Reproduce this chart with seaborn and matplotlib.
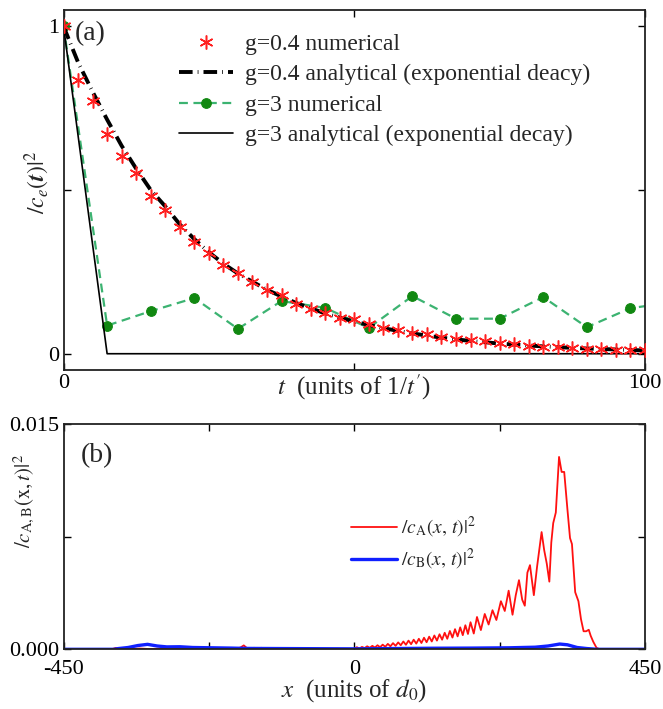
import matplotlib
matplotlib.use('Agg')
import matplotlib.pyplot as plt
import seaborn as sns

# ---- panel (a): |c_e(t)|^2 ----
t_num04 = [0, 2.5, 5, 7.5, 10, 12.5, 15, 17.5, 20, 22.5, 25, 27.5, 30, 32.5, 35, 37.5,
           40, 42.5, 45, 47.5, 50, 52.5, 55, 57.5, 60, 62.5, 65, 67.5, 70, 72.5, 75,
           77.5, 80, 82.5, 85, 87.5, 90, 92.5, 95, 97.5, 100]
ce_num04 = [1.0, 0.835, 0.771, 0.672, 0.603, 0.551, 0.481, 0.440, 0.387, 0.342, 0.308,
            0.271, 0.247, 0.220, 0.195, 0.178, 0.153, 0.138, 0.123, 0.108, 0.105, 0.091,
            0.079, 0.071, 0.064, 0.059, 0.050, 0.045, 0.042, 0.039, 0.034, 0.031, 0.025,
            0.021, 0.020, 0.017, 0.015, 0.014, 0.012, 0.011, 0.010]

t_ana04 = [0, 2.5, 5, 7.5, 10, 12.5, 15, 17.5, 20, 22.5, 25, 27.5, 30, 35, 40, 45, 50,
           55, 60, 65, 70, 75, 80, 85, 90, 95, 100]
ce_ana04 = [1.0, 0.89, 0.80, 0.715, 0.635, 0.565, 0.50, 0.45, 0.395, 0.35, 0.31, 0.275,
            0.245, 0.195, 0.155, 0.123, 0.098, 0.078, 0.062, 0.049, 0.039, 0.031, 0.025,
            0.020, 0.016, 0.013, 0.010]

t_g3 = [0, 7.5, 15, 22.5, 30, 37.5, 45, 52.5, 60, 67.5, 75, 82.5, 90, 97.5, 105]
ce_num3 = [1.0, 0.086, 0.130, 0.170, 0.076, 0.161, 0.140, 0.079, 0.176, 0.107, 0.107,
           0.173, 0.081, 0.139, 0.158]
ce_ana3 = [1.0, 0.0, 0.0, 0.0, 0.0, 0.0, 0.0, 0.0, 0.0, 0.0, 0.0, 0.0, 0.0, 0.0, 0.0]

# ---- panel (b): |c_A|^2 and |c_B|^2 vs x ----
xa = [-450, -376, -369, -362, -352, -343, -332, -318, -300, -282, -262, -240, -218, -196,
      -182, -176, -171, -166, -160, -155, -150, -144, -139, -128, -112, -96, -80, -62,
      -44, -26, -10, 0,
      4, 8, 12, 16, 20, 24, 28, 32, 36, 40, 44, 48, 52, 56, 60, 64, 68, 72, 76, 80,
      84, 88, 92, 96, 100, 104, 108, 112, 116, 120, 124, 128, 132, 136, 140, 144,
      148, 152, 156, 160, 164, 168, 172, 176, 180, 185, 190, 196, 202, 208, 214, 220,
      227, 233, 239, 245, 250, 255, 260, 264, 268, 272, 278, 283, 290, 294, 298, 302,
      305, 308, 312, 317, 321, 325, 330, 334, 337, 342, 347, 351, 355, 359, 363, 366,
      370, 375, 380, 450]
ca = [0, 0, 0.00009, 0.00003, 0.00007, 0.00002, 0.00005, 0.00002, 0.00004, 0.00002,
      0.00004, 0.00002, 0.00004, 0.00002, 0.00005, 0.00012, 0.00026, 0.00008, 0.00004,
      0.0001, 0.00003, 0.0001, 0.00003, 0.00005, 0.00002, 0.00004, 0.00002, 0.00003,
      0.00002, 0.00003, 0.00002, 0.00003,
      0.00014, 0.00005, 0.00016, 0.00008, 0.0002, 0.0001, 0.00023, 0.00012, 0.00027,
      0.00014, 0.00031, 0.00017, 0.00036, 0.0002, 0.00041, 0.00023, 0.00046, 0.00027,
      0.00052, 0.0003, 0.00058, 0.00034, 0.00064, 0.00038, 0.0007, 0.00042, 0.00077,
      0.00047, 0.00084, 0.00052, 0.00092, 0.00058, 0.001, 0.00064, 0.0011, 0.0007,
      0.00122, 0.00078, 0.00134, 0.00086, 0.00146, 0.00094, 0.0016, 0.00102, 0.0018,
      0.00105, 0.00215, 0.00128, 0.00235, 0.00165, 0.0026, 0.00195, 0.0032, 0.00255,
      0.0039, 0.0023, 0.0036, 0.0046, 0.0033, 0.0029, 0.0051, 0.0056, 0.0036, 0.0055,
      0.0078, 0.0066, 0.0057, 0.0045, 0.0071, 0.0084, 0.0091, 0.0128, 0.0118, 0.0118,
      0.0093, 0.0074, 0.0070, 0.0038, 0.0032, 0.0020, 0.0012, 0.0012, 0.0013, 0.0009,
      0.0005, 0.0001, 0, 0]

xb = [-450, -372, -365, -350, -335, -320, -305, -290, -270, -250, -220, -190, -170, -120,
      -60, 0, 60, 120, 180, 240, 280, 300, 318, 330, 345, 360, 376, 450]
cb = [0, 0, 0.00005, 0.00012, 0.00025, 0.00033, 0.00022, 0.00016, 0.00017, 0.00012,
      0.0001, 0.00008, 0.00006, 0.00005, 0.00004, 0.00003, 0.00005, 0.00007, 0.00008,
      0.0001, 0.00014, 0.00022, 0.00035, 0.0003, 0.00012, 0.00005, 0, 0]

sns.set_theme(style='ticks')
plt.rcParams['font.family'] = ['Liberation Serif', 'DejaVu Serif']
plt.rcParams['mathtext.fontset'] = 'stix'
plt.rcParams['axes.unicode_minus'] = False

fig = plt.figure(figsize=(6.63, 7.09), dpi=100)
ax1 = fig.add_axes([0.0958, 0.478, 0.877, 0.508])
ax2 = fig.add_axes([0.0958, 0.0842, 0.877, 0.318])

sns.lineplot(x=t_g3, y=ce_num3, ax=ax1, color='#3cb371', linestyle=(0, (4, 2.5)), lw=1.6,
             marker='o', markersize=7, markerfacecolor='#118811', markeredgecolor='#118811',
             label='g=3 numerical', zorder=2)
sns.lineplot(x=t_g3, y=ce_ana3, ax=ax1, color='black', lw=1.2,
             label='g=3 analytical (exponential decay)', zorder=3)
sns.lineplot(x=t_ana04, y=ce_ana04, ax=ax1, color='black', lw=2.8,
             linestyle=(0, (3.5, 1.3, 0.2, 1.3)),
             label='g=0.4 analytical (exponential deacy)', zorder=4)
sns.lineplot(x=t_num04, y=ce_num04, ax=ax1, color='#ff2020', linestyle='none',
             marker=(6, 2, 0), markersize=10, markeredgewidth=1.1,
             markeredgecolor='#ff2020', markerfacecolor='#ff2020',
             label='g=0.4 numerical', zorder=5)

ax1.set_xlim(0, 100)
ax1.set_ylim(-0.05, 1.05)
ax1.set_xticks([0, 50, 100])
ax1.set_xticklabels(['0', '', '100'])
ax1.set_yticks([0, 0.5, 1])
ax1.set_yticklabels(['0', '', '1'])
ax1.set_xlabel(r'$t$  (units of 1/$t^{\prime}$)', fontsize=18)
ax1.xaxis.set_label_coords(0.5, -0.005)
ax1.set_ylabel(r'$/c_e(\boldsymbol{t})|^2$', fontsize=17)
ax1.yaxis.set_label_coords(-0.02, 0.52)
ax1.text(0.02, 0.935, '(a)', transform=ax1.transAxes, fontsize=20, va='center', ha='left')

handles, labels = ax1.get_legend_handles_labels()
order = [3, 2, 0, 1]
ax1.legend([handles[i] for i in order], [labels[i] for i in order],
           loc='upper left', bbox_to_anchor=(0.198, 0.935), frameon=False, fontsize=17,
           handlelength=2.3, handletextpad=0.5, labelspacing=0.38, borderpad=0,
           borderaxespad=0)

sns.lineplot(x=xa, y=ca, ax=ax2, color='#ff1010', lw=1.3, label=r'$/c_{\mathrm{A}}(x,\,t)|^2$')
sns.lineplot(x=xb, y=cb, ax=ax2, color='#1020ff', lw=2.4, label=r'$/c_{\mathrm{B}}(x,\,t)|^2$')
ax2.set_xlim(-450, 450)
ax2.set_ylim(0, 0.015)
ax2.set_xticks([-450, -225, 0, 225, 450])
ax2.set_xticklabels(['-450', '', '0', '', '450'])
ax2.set_yticks([0, 0.0075, 0.015])
ax2.set_yticklabels(['0.000', '', '0.015'])
ax2.set_xlabel(r'$x$  (units of $d_0$)', fontsize=18)
ax2.xaxis.set_label_coords(0.5, -0.125)
ax2.set_ylabel(r'$/c_{\mathrm{A,B}}(\mathrm{x},t)|^2$', fontsize=15)
ax2.yaxis.set_label_coords(-0.045, 0.66)
ax2.text(0.03, 0.86, '(b)', transform=ax2.transAxes, fontsize=20, va='center', ha='left')
ax2.legend(loc='upper left', bbox_to_anchor=(0.494, 0.595), frameon=False, fontsize=14,
           handlelength=2.4, handletextpad=0.2, labelspacing=0.35, borderpad=0,
           borderaxespad=0)

for ax in (ax1, ax2):
    ax.tick_params(direction='in', top=True, right=True, length=5, width=1,
                   labelsize=16, colors='black', pad=3)
    for s in ax.spines.values():
        s.set_linewidth(1.3)
        s.set_color('#222222')
ax2.tick_params(axis='x', pad=8)

fig.savefig('out.png', dpi=100)
